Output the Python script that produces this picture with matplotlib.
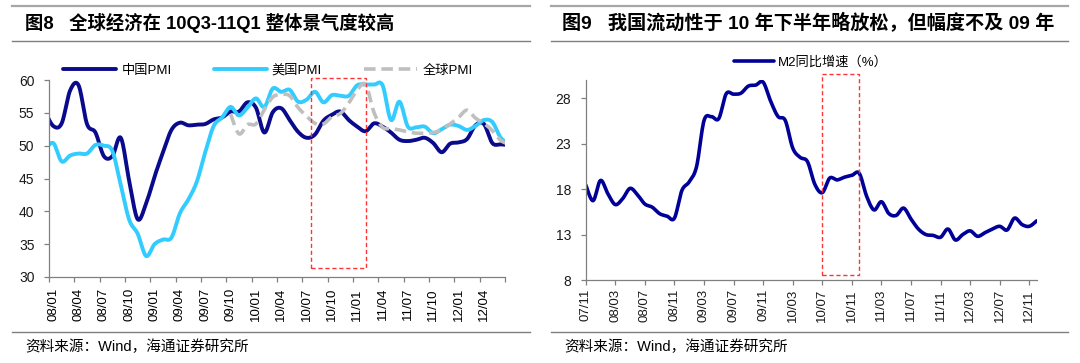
import numpy as np
import matplotlib
matplotlib.use('Agg')
import matplotlib.pyplot as plt
from matplotlib.lines import Line2D
from matplotlib.patches import Rectangle

plt.rcParams['font.family'] = ['Liberation Sans', 'Noto Sans CJK SC']

# ---- left chart data: monthly PMI, Dec 2007 .. Jul 2012 ----
left_labels = ['08/01', '08/04', '08/07', '08/10', '09/01', '09/04', '09/07', '09/10',
               '10/01', '10/04', '10/07', '10/10', '11/01', '11/04', '11/07', '11/10',
               '12/01', '12/04']
china_pmi = [55.3,
             53.0, 53.4, 58.4, 59.2, 53.3, 52.0, 48.4, 48.4, 51.2, 44.6, 38.8, 41.2,
             45.3, 49.0, 52.4, 53.5, 53.1, 53.2, 53.3, 54.0, 54.3, 55.2, 55.2, 56.6,
             55.8, 52.0, 55.1, 55.7, 53.9, 52.1, 51.2, 51.7, 53.8, 54.7, 55.2, 53.9,
             52.9, 52.2, 53.4, 52.9, 52.0, 50.9, 50.7, 50.9, 51.2, 50.4, 49.0, 50.3,
             50.5, 51.0, 53.1, 53.3, 50.4, 50.2, 50.1]
us_pmi = [49.3,
          50.4, 47.6, 48.5, 48.8, 48.8, 50.1, 50.0, 49.2, 44.0, 38.7, 36.6, 33.2,
          35.0, 35.7, 36.0, 39.7, 41.8, 44.5, 49.0, 53.0, 54.3, 55.9, 54.6, 55.8,
          57.2, 55.9, 58.7, 58.2, 58.5, 56.7, 57.0, 58.2, 56.6, 57.7, 57.6, 57.6,
          59.2, 59.3, 59.3, 59.2, 53.9, 56.7, 52.9, 52.8, 52.9, 51.9, 52.5, 53.2,
          53.0, 52.4, 53.0, 53.9, 53.6, 51.2, 50.3]
# global PMI starts Oct 2009
global_start = 21
global_pmi = [54.8, 51.8, 53.2,
              53.3, 55.5, 57.4, 57.8, 57.6, 55.8, 54.5, 53.4, 53.3, 54.4, 54.9, 56.5,
              58.5, 59.3, 55.0, 52.8, 52.6, 52.4, 52.1, 51.9, 51.9, 52.0, 52.4, 53.3,
              54.3, 55.4, 54.2, 53.4, 52.3, 50.8, 50.2]

# ---- right chart data: M2 yoy, Nov 2007 .. Dec 2012 ----
right_labels = ['07/11', '08/03', '08/07', '08/11', '09/03', '09/07', '09/11', '10/03',
                '10/07', '10/11', '11/03', '11/07', '11/11', '12/03', '12/07', '12/11']
m2_yoy = [18.45, 16.72,
          18.94, 17.48, 16.29, 16.94, 18.07, 17.37, 16.35, 16.00, 15.29, 15.02, 14.80, 17.82,
          18.79, 20.48, 25.51, 25.95, 25.74, 28.46, 28.42, 28.53, 29.31, 29.42, 29.74, 27.68,
          25.98, 25.52, 22.50, 21.48, 21.00, 18.50, 17.60, 19.20, 19.00, 19.30, 19.50, 19.72,
          17.20, 15.70, 16.60, 15.30, 15.10, 15.90, 14.70, 13.60, 13.00, 12.90, 12.70, 13.60,
          12.40, 13.00, 13.40, 12.80, 13.20, 13.60, 13.90, 13.50, 14.80, 14.10, 13.90, 14.50]

NAVY = '#0a0a8c'
SKY = '#33ccff'
GREY = '#bfbfbf'
M2C = '#000099'
RED = '#ff3333'
AXC = '#808080'


def smooth(x, y, n=12):
    # Catmull-Rom curve through the points (like Excel's smoothed line)
    P = np.column_stack([np.asarray(x, float), np.asarray(y, float)])
    P = np.vstack([P[0], P, P[-1]])
    t = np.linspace(0, 1, n, endpoint=False)[:, None]
    out = []
    for i in range(1, len(P) - 2):
        p0, p1, p2, p3 = P[i - 1], P[i], P[i + 1], P[i + 2]
        out.append(0.5 * (2 * p1 + (-p0 + p2) * t
                          + (2 * p0 - 5 * p1 + 4 * p2 - p3) * t ** 2
                          + (-p0 + 3 * p1 - 3 * p2 + p3) * t ** 3))
    out.append(P[-2][None, :])
    s = np.vstack(out)
    return s[:, 0], s[:, 1]


def style_axes(ax):
    for s in ['top', 'right']:
        ax.spines[s].set_visible(False)
    for s in ['left', 'bottom']:
        ax.spines[s].set_color(AXC)
        ax.spines[s].set_linewidth(0.9)
    ax.tick_params(axis='both', which='major', direction='out', length=3.5,
                   color=AXC, width=0.9, labelcolor='#1a1a1a')
    ax.tick_params(axis='y', labelsize=10, pad=7)


fig = plt.figure(figsize=(10.8, 3.63), dpi=100)

# ---------------- left panel ----------------
ax1 = fig.add_axes([49 / 1080, 1 - 277 / 363, 456 / 1080, 197 / 363])
style_axes(ax1)
xc = np.arange(len(china_pmi)) - 0.5
xs, ys = smooth(xc, china_pmi)
ax1.plot(xs, ys, color=NAVY, lw=2.8, label='中国PMI', solid_capstyle='round')
xs, ys = smooth(xc, us_pmi)
ax1.plot(xs, ys, color=SKY, lw=2.8, label='美国PMI', solid_capstyle='round')
xg = np.arange(len(global_pmi)) + global_start + 0.5
xs, ys = smooth(xg, global_pmi)
ax1.plot(xs, ys, color=GREY, lw=2.6, ls=(0, (3.2, 1.6)), label='全球PMI')
ax1.set_xlim(0, 54)
ax1.set_ylim(30, 60)
ax1.set_yticks(np.arange(30, 61, 5))
ax1.set_xticks(np.arange(0, 55, 3))
ax1.set_xticklabels([])
ax1.set_xticks(np.arange(len(left_labels)) * 3 + 0.5, minor=True)
ax1.set_xticklabels(left_labels, minor=True, rotation=90, fontsize=9.5)
ax1.tick_params(axis='x', which='minor', length=0, pad=8)
ax1.add_patch(Rectangle((31.0, 31.4), 6.5, 28.9, fill=False, ec=RED, lw=1.0,
                        ls=(0, (3, 2)), clip_on=False, zorder=5))
ax1.legend(loc='lower center', bbox_to_anchor=(0.48, 0.99), ncol=3, frameon=False,
           fontsize=9.5, handlelength=4.0, columnspacing=3.2, handletextpad=0.4,
           borderaxespad=0)

# ---------------- right panel ----------------
ax2 = fig.add_axes([585.7 / 1080, 1 - 280 / 363, 451 / 1080, 200.2 / 363])
style_axes(ax2)
xm = np.arange(len(m2_yoy))
xs, ys = smooth(xm, m2_yoy)
ax2.plot(xs, ys, color=M2C, lw=2.6, label='M2同比增速（%）', solid_capstyle='round')
ax2.set_xlim(0, 61)
ax2.set_ylim(8, 30)
ax2.set_yticks([8, 13, 18, 23, 28])
ax2.set_xticks(np.arange(len(right_labels)) * 4)
ax2.set_xticklabels(right_labels, rotation=90, fontsize=9.5)
ax2.tick_params(axis='x', pad=3)
ax2.add_patch(Rectangle((32.0, 8.55), 5.0, 22.05, fill=False, ec=RED, lw=1.0,
                        ls=(0, (3, 2)), clip_on=False, zorder=5))
ax2.legend(loc='lower center', bbox_to_anchor=(0.5, 1.03), frameon=False,
           fontsize=9.5, handlelength=3.0, handletextpad=0.3, borderaxespad=0)

# ---------------- titles, rules, sources ----------------
for x0, x1 in [(12, 530), (551, 1068)]:
    for yp, c, w in [(6, '#a6a6a6', 1.6), (41, '#7f7f7f', 1.0), (332, '#7f7f7f', 1.0)]:
        fig.add_artist(Line2D([x0 / 1080, x1 / 1080], [1 - yp / 363, 1 - yp / 363],
                              transform=fig.transFigure, color=c, lw=w))

fig.text(25 / 1080, 1 - 23 / 363, '图8   全球经济在 10Q3-11Q1 整体景气度较高',
         fontsize=13.2, fontweight='bold', va='center', ha='left')
fig.text(562 / 1080, 1 - 23 / 363, '图9   我国流动性于 10 年下半年略放松，但幅度不及 09 年',
         fontsize=13.8, fontweight='bold', va='center', ha='left')
fig.text(25 / 1080, 1 - 347 / 363, '资料来源：Wind，海通证券研究所', fontsize=10.5,
         va='center', ha='left')
fig.text(564 / 1080, 1 - 347 / 363, '资料来源：Wind，海通证券研究所', fontsize=10.5,
         va='center', ha='left')

fig.savefig('out.png', dpi=100)
